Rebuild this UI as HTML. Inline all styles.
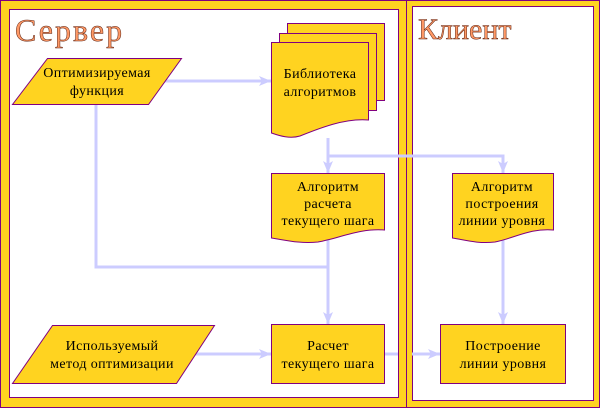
<!DOCTYPE html>
<html><head><meta charset="utf-8"><style>
html,body{margin:0;padding:0;background:#fff}
svg{display:block}
</style></head><body>
<svg width="600" height="408" viewBox="0 0 600 408" xmlns="http://www.w3.org/2000/svg" font-family="'Liberation Serif', 'DejaVu Serif', serif">
<defs>
<marker id="a" viewBox="0 0 12 10" refX="12" refY="5" markerWidth="12" markerHeight="10" markerUnits="userSpaceOnUse" orient="auto">
<path d="M0,0 L12,5 L0,10 L3,5 Z" fill="#ccccff"/>
</marker>
</defs>
<rect x="0.5" y="0.5" width="599" height="407" fill="#ffd320" stroke="#800080"/>
<line x1="406.5" y1="0" x2="406.5" y2="408" stroke="#800080"/>
<rect x="9.5" y="9.5" width="389" height="388" fill="#fff" stroke="#800080"/>
<rect x="412.5" y="6.5" width="181" height="394" fill="#fff" stroke="#800080"/>
<text x="15" y="41" font-size="32" letter-spacing="2" fill="#ff9966" stroke="#5a2010" stroke-width="0.5" font-family="'Liberation Serif', 'DejaVu Serif', serif">Сервер</text>
<text x="418" y="39" font-size="30" fill="#ff9966" stroke="#5a2010" stroke-width="0.5" font-family="'Liberation Serif', 'DejaVu Serif', serif">Клиент</text>

<g fill="none" stroke="#ccccff" stroke-width="3">
<line x1="164" y1="81" x2="271" y2="81" marker-end="url(#a)"/>
<polyline points="96,104 96,267 328,267"/>
<line x1="328" y1="138" x2="328" y2="173" marker-end="url(#a)"/>
<polyline points="328,156 503,156 503,173" marker-end="url(#a)"/>
<line x1="328" y1="240" x2="328" y2="324" marker-end="url(#a)"/>
<line x1="195" y1="354" x2="271" y2="354" marker-end="url(#a)"/>
<line x1="384" y1="354" x2="398" y2="354"/>
<line x1="412" y1="354" x2="440" y2="354" marker-end="url(#a)"/>
<line x1="503" y1="240" x2="503" y2="324" marker-end="url(#a)"/>
</g>

<g fill="#ffd320" stroke="#800080" stroke-width="1">
<polygon points="47.5,58.5 181.5,58.5 148.5,104.5 12.5,104.5"/>
<polygon points="52.5,325.5 214.5,325.5 176.5,383.5 12.5,383.5"/>
<rect x="287.5" y="23.5" width="97" height="77"/>
<rect x="279.5" y="33.5" width="97" height="77"/>
<path d="M271.5,42.5 H368.5 V120 C345,118 320,128 300,136 C290,139 280,136 271.5,133 Z"/>
<path d="M271.5,173.5 H384.5 V230 C360,228 340,238 318,242 C300,244 285,240 271.5,238 Z"/>
<path d="M452.5,173.5 H553.5 V230 C530,228 515,238 495,242 C478,244 465,240 452.5,238 Z"/>
<rect x="271.5" y="324.5" width="113" height="59"/>
<rect x="440.5" y="324.5" width="125" height="59"/>
</g>

<g font-size="14" letter-spacing="0.4" fill="#000" text-anchor="middle" font-family="'Liberation Serif', 'DejaVu Serif', serif">
<text x="97" y="77">Оптимизируемая</text>
<text x="97" y="95">функция</text>
<text x="320" y="78">Библиотека</text>
<text x="320" y="96">алгоритмов</text>
<text x="328" y="191">Алгоритм</text>
<text x="328" y="208">расчета</text>
<text x="328" y="225">текущего шага</text>
<text x="502" y="191">Алгоритм</text>
<text x="502" y="208">построения</text>
<text x="502" y="225">линии уровня</text>
<text x="112" y="350">Используемый</text>
<text x="112" y="368">метод оптимизации</text>
<text x="328" y="350">Расчет</text>
<text x="328" y="368">текущего шага</text>
<text x="503" y="350">Построение</text>
<text x="503" y="368">линии уровня</text>
</g>
</svg>
</body></html>
